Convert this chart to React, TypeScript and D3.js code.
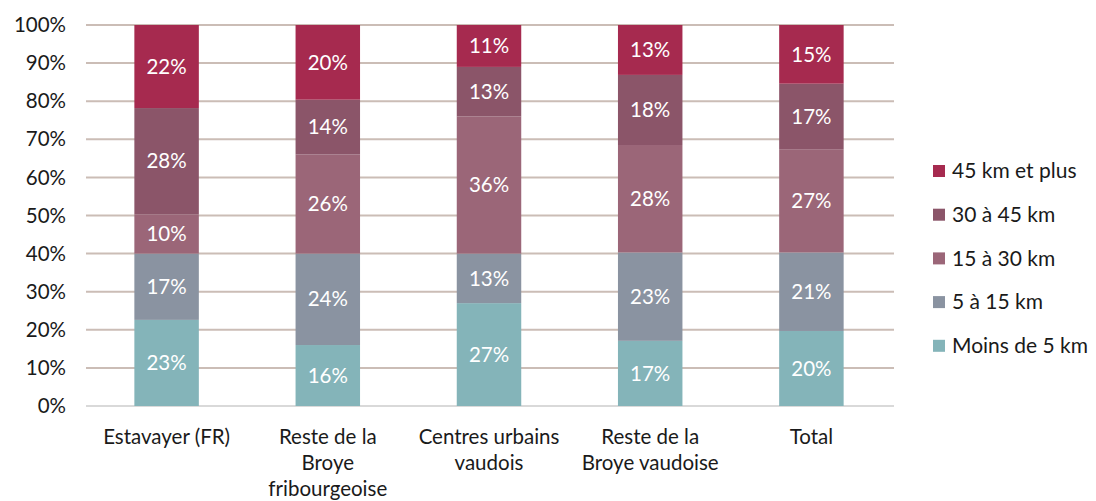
import React from "react";
import * as d3 from "d3";

const categories = [
  ["Estavayer (FR)"],
  ["Reste de la", "Broye", "fribourgeoise"],
  ["Centres urbains", "vaudois"],
  ["Reste de la", "Broye vaudoise"],
  ["Total"],
];
const seriesNames = ["Moins de 5 km", "5 à 15 km", "15 à 30 km", "30 à 45 km", "45 km et plus"];
const moins5 = [22.6, 16, 27, 17.1, 19.7];
const de5a15 = [17.4, 24, 13, 23.2, 20.6];
const de15a30 = [10.3, 26, 36, 28.2, 27.1];
const de30a45 = [27.9, 14.4, 13, 18.4, 17.2];
const plus45 = [21.8, 19.6, 11, 13.1, 15.4];
const yTicks = [0, 10, 20, 30, 40, 50, 60, 70, 80, 90, 100];
const colors = ["#84b4b9", "#8a93a1", "#9b6678", "#8b5569", "#a62a4f"];

const W = 1096, H = 501;
const margin = { left: 86, right: 204, top: 25, bottom: 95 };
const font = "Lato, 'Noto Sans', sans-serif";
const fs = 20.5;

export default function App() {
  const series = [moins5, de5a15, de15a30, de30a45, plus45];
  const x = d3.scaleBand<number>().domain(categories.map((_, i) => i)).range([margin.left, W - margin.right]).paddingInner(0.6).paddingOuter(0.3);
  const y = d3.scaleLinear().domain([0, 100]).range([H - margin.bottom, margin.top]);
  const stackData = categories.map((_, i) => {
    const o: any = { i };
    series.forEach((s, k) => (o[k] = s[i]));
    return o;
  });
  const stacked = d3.stack<any>().keys(series.map((_, k) => String(k)))(stackData);
  return (
    <svg width={W} height={H} style={{ display: "block", position: "absolute", left: 0, top: 0 }} fontFamily={font}>
      {yTicks.map((t) => (
        <g key={t}>
          <line x1={margin.left} x2={W - margin.right + 2} y1={y(t)} y2={y(t)} stroke={t === 0 ? "#d9d9d9" : "#cbbdb6"} strokeWidth={2} />
          <text x={66} y={y(t)} dy="0.35em" textAnchor="end" fontSize={fs} fill="#1a1a1a">{t}%</text>
        </g>
      ))}
      {stacked.map((layer, k) => (
        <g key={k}>
          {layer.map((d, i) => {
            const x0 = x(i)!;
            const y0 = y(d[1]);
            const h = y(d[0]) - y(d[1]);
            return (
              <g key={i}>
                <rect x={x0} y={y0} width={x.bandwidth()} height={h} fill={colors[k]} />
                <text x={x0 + x.bandwidth() / 2} y={y0 + h / 2} dy="0.35em" textAnchor="middle" fontSize={fs} fill="#ffffff">
                  {Math.round(series[k][i])}%
                </text>
              </g>
            );
          })}
        </g>
      ))}
      {categories.map((lines, i) => (
        <text key={i} x={x(i)! + x.bandwidth() / 2} y={437} textAnchor="middle" fontSize={fs} fill="#1a1a1a">
          {lines.map((l, j) => (
            <tspan key={j} x={x(i)! + x.bandwidth() / 2} dy={j === 0 ? "0.35em" : 26}>{l}</tspan>
          ))}
        </text>
      ))}
      {seriesNames.slice().reverse().map((name, j) => {
        const k = seriesNames.length - 1 - j;
        const yy = 171 + j * 43.7;
        return (
          <g key={name}>
            <rect x={933} y={yy - 6} width={12} height={12} fill={colors[k]} />
            <text x={952} y={yy} dy="0.35em" fontSize={fs + 0.5} fill="#1a1a1a">{name}</text>
          </g>
        );
      })}
    </svg>
  );
}
